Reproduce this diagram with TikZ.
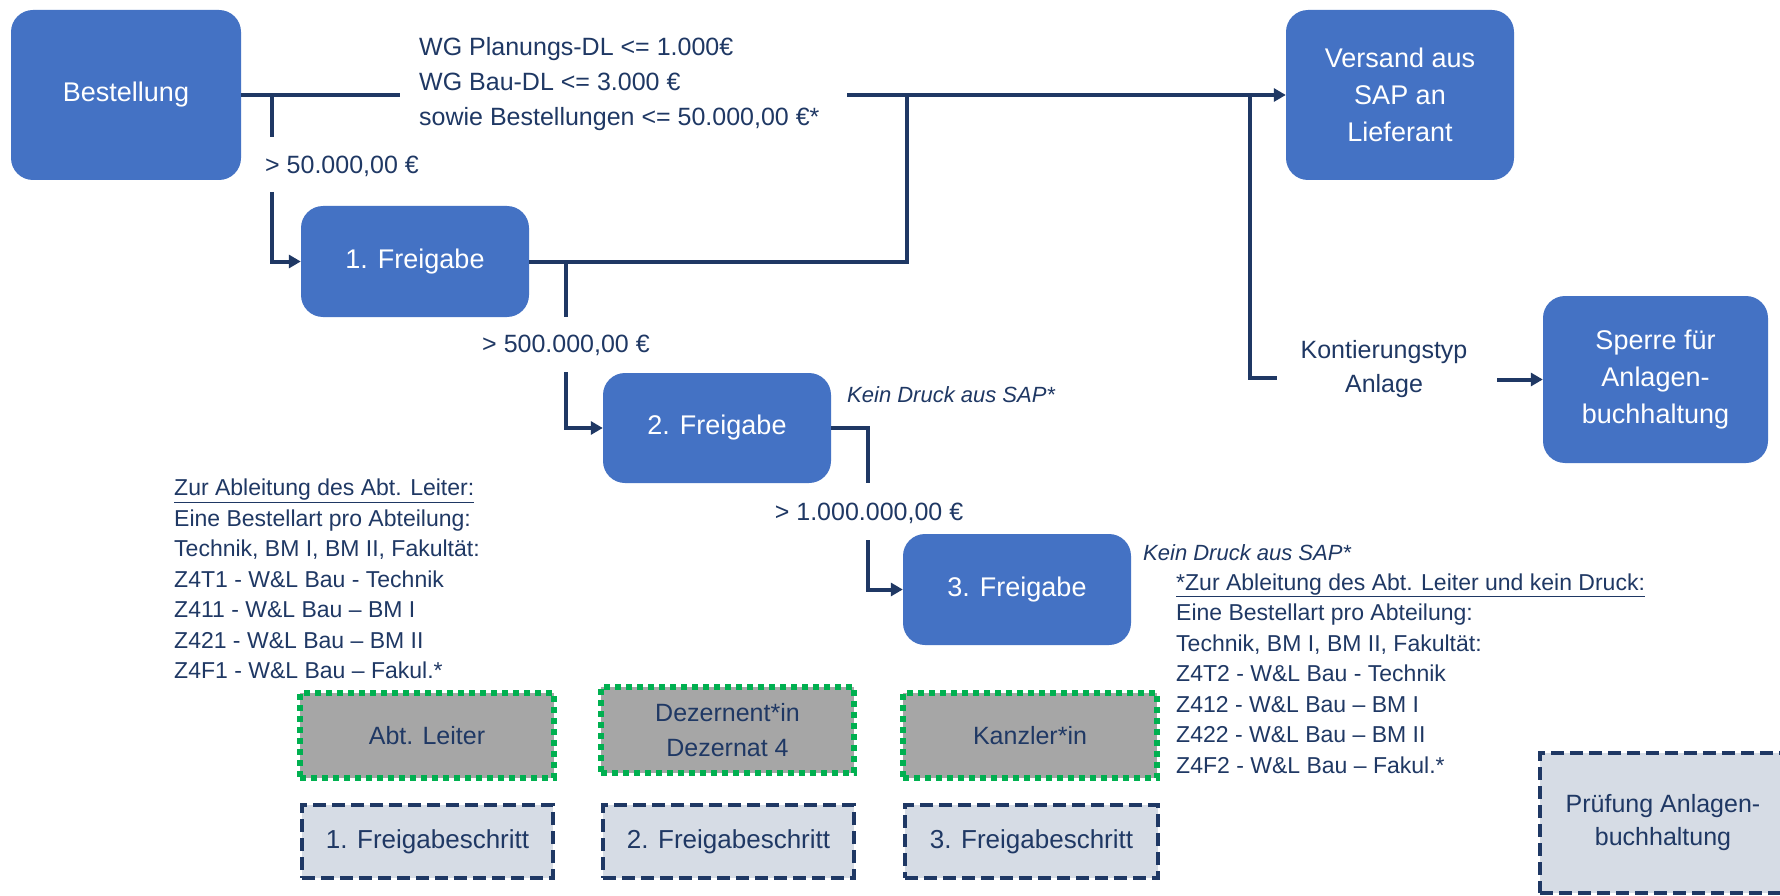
\documentclass[tikz,border=0pt]{standalone}
\usepackage{fontspec}
\setmainfont{Liberation Sans}
\usetikzlibrary{arrows.meta}
\definecolor{boxblue}{HTML}{4472C4}
\definecolor{navy}{HTML}{1F3864}
\definecolor{dotgreen}{HTML}{00B050}
\definecolor{boxgray}{HTML}{A6A6A6}
\definecolor{lightlav}{HTML}{D6DCE5}
\begin{document}
\begin{tikzpicture}[x=1pt,y=-1pt,
  bluebox/.style={fill=boxblue, rounded corners=22pt, text=white, align=center, inner sep=0pt, font=\fontsize{27}{37}\selectfont},
  rolebox/.style={fill=boxgray, draw=dotgreen, line width=6pt, dash pattern=on 6pt off 5pt, text=navy, align=center, inner sep=0pt, font=\fontsize{25}{35}\selectfont},
  stepbox/.style={fill=lightlav, draw=navy, line width=4.5pt, dash pattern=on 13pt off 6pt, text=navy, align=center, inner sep=0pt, font=\fontsize{26}{33}\selectfont},
  conn/.style={draw=navy, line width=4pt},
  arr/.style={conn, -{Triangle[length=12pt,width=13pt]}},
  lbl/.style={text=navy, font=\fontsize{25}{35}\selectfont, inner sep=0pt, align=left},
  kein/.style={text=navy, font=\fontsize{22}{28}\selectfont\itshape, inner sep=0pt},
  note/.style={text=navy, font=\fontsize{23}{30.5}\selectfont, align=left, inner sep=0pt}]
\useasboundingbox[fill=white] (0,0) rectangle (1780,896);

% main boxes
\node[bluebox, minimum width=230pt, minimum height=170pt] (best) at (126,95) {Bestellung};
\node[bluebox, minimum width=228pt, minimum height=170pt] (vers) at (1400,95) {Versand aus\\SAP an\\Lieferant};
\node[bluebox, minimum width=228pt, minimum height=111pt] (f1) at (415,261.5) {1. Freigabe};
\node[bluebox, minimum width=228pt, minimum height=110pt] (f2) at (717,428) {2. Freigabe};
\node[bluebox, minimum width=228pt, minimum height=111pt] (f3) at (1017,589.5) {3. Freigabe};
\node[bluebox, minimum width=225pt, minimum height=167pt] (sperre) at (1655.5,379.5) {Sperre für\\Anlagen-\\buchhaltung};

% role boxes
\node[rolebox, minimum width=254pt, minimum height=85pt] (abt) at (427,735.5) {Abt. Leiter};
\node[rolebox, minimum width=253pt, minimum height=86pt] (dez) at (727.5,730) {Dezernent*in\\Dezernat 4};
\node[rolebox, minimum width=254pt, minimum height=85pt] (kanz) at (1030,735.5) {Kanzler*in};

% step boxes
\node[stepbox, minimum width=251pt, minimum height=73pt] (s1) at (427.5,841.5) {1. Freigabeschritt};
\node[stepbox, minimum width=251pt, minimum height=73pt] (s2) at (728.5,841.5) {2. Freigabeschritt};
\node[stepbox, minimum width=253pt, minimum height=73pt] (s3) at (1031.5,841.5) {3. Freigabeschritt};
\node[stepbox, minimum width=246pt, minimum height=140pt, font=\fontsize{25}{33}\selectfont] (pruef) at (1663,823) {Prüfung Anlagen-\\buchhaltung};

% labels
\node[lbl, anchor=west] (top) at (419,84) {WG Planungs-DL <= 1.000€\\WG Bau-DL <= 3.000 €\\sowie Bestellungen <= 50.000,00 €*};
\node[lbl] (l50) at (342,166) {> 50.000,00 €};
\node[lbl] (l500) at (566,345) {> 500.000,00 €};
\node[lbl] (l1m) at (869,513) {> 1.000.000,00 €};
\node[lbl, align=center, font=\fontsize{25}{34}\selectfont] (kont) at (1384,369) {Kontierungstyp\\Anlage};
\node[kein, anchor=west] (k2) at (847,395) {Kein Druck aus SAP*};
\node[kein, anchor=west] (k3) at (1143,553) {Kein Druck aus SAP*};

\node[note, anchor=west] (noteL) at (174,579) {\underline{Zur Ableitung des Abt. Leiter:}\\Eine Bestellart pro Abteilung:\\Technik, BM I, BM II, Fakultät:\\Z4T1 - W\&L Bau - Technik\\Z411 - W\&L Bau – BM I\\Z421 - W\&L Bau – BM II\\Z4F1 - W\&L Bau – Fakul.*};
\node[note, anchor=west] (noteR) at (1176,673.5) {\underline{*Zur Ableitung des Abt. Leiter und kein Druck:}\\Eine Bestellart pro Abteilung:\\Technik, BM I, BM II, Fakultät:\\Z4T2 - W\&L Bau - Technik\\Z412 - W\&L Bau – BM I\\Z422 - W\&L Bau – BM II\\Z4F2 - W\&L Bau – Fakul.*};

% coordinates
\coordinate (g1a) at (400,95);
\coordinate (g1b) at (847,95);
\coordinate (j1) at (272,95);
\coordinate (g2a) at (272,137);
\coordinate (g2b) at (272,192);
\coordinate (j2) at (907,95);
\coordinate (j3) at (566,261.5);
\coordinate (g3a) at (566,317);
\coordinate (g3b) at (566,372);
\coordinate (j4) at (868,428);
\coordinate (g4a) at (868,483);
\coordinate (g4b) at (868,540);
\coordinate (j5) at (1250,95);
\coordinate (ka) at (1277,378);
\coordinate (kb) at (1497,379.5);

% connectors
\draw[conn] (best.east) -- (g1a);
\draw[arr] (g1b) -- (vers.west);
\draw[conn] (j1) -- (g2a);
\draw[arr] (g2b) |- (f1.west);
\draw[conn] (f1.east) -| (j2);
\draw[conn] (j3) -- (g3a);
\draw[arr] (g3b) |- (f2.west);
\draw[conn] (f2.east) -| (g4a);
\draw[arr] (g4b) |- (f3.west);
\draw[conn] (j5) |- (ka);
\draw[arr] (kb) -- (sperre.west);
\end{tikzpicture}
\end{document}
